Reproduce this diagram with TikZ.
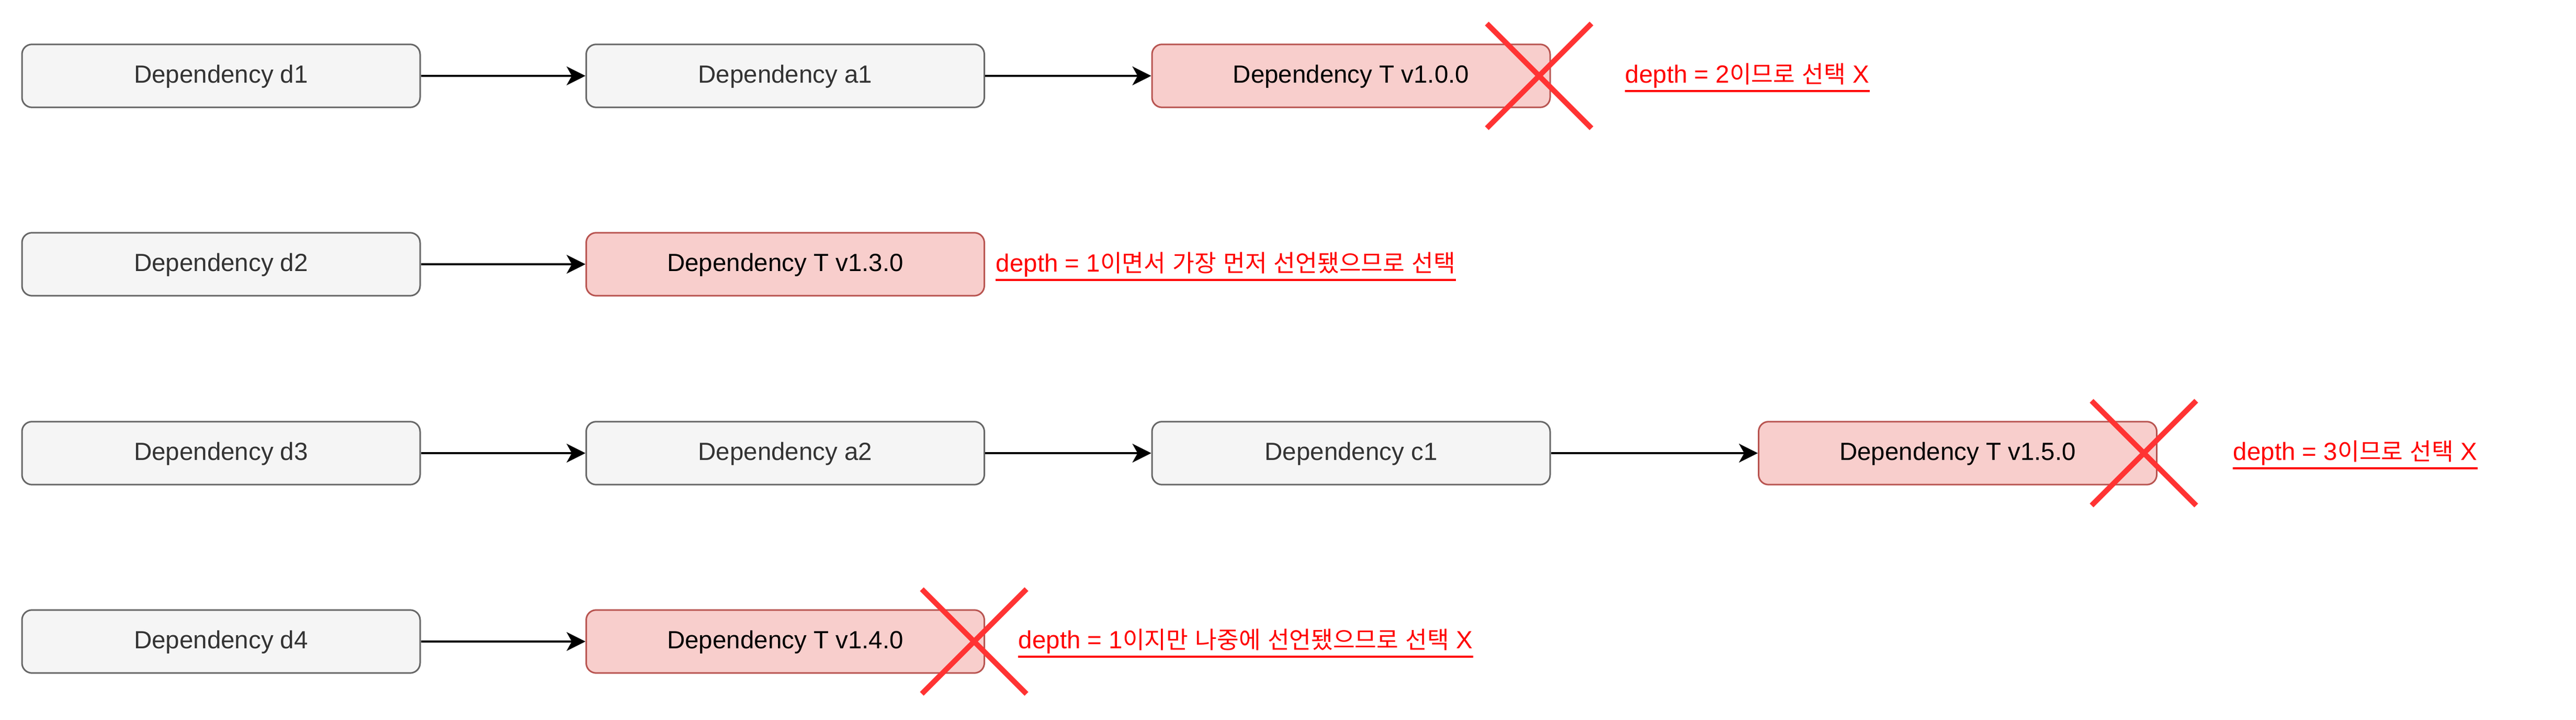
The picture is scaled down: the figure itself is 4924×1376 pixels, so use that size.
\documentclass[tikz,border=0pt]{standalone}
\usepackage{fontspec}
\setmainfont{Liberation Sans}
\newfontfamily\kr{Noto Sans CJK KR}[Scale=0.955]
\usetikzlibrary{arrows.meta}
\definecolor{gfill}{HTML}{F5F5F5}
\definecolor{gstroke}{HTML}{666666}
\definecolor{gtext}{HTML}{333333}
\definecolor{rfill}{HTML}{F8CECC}
\definecolor{rstroke}{HTML}{B85450}
\definecolor{xred}{HTML}{FF3333}
\definecolor{lred}{HTML}{FF0000}
\begin{document}
\begin{tikzpicture}[x=0.25pt,y=-0.25pt,
  box/.style={rectangle, rounded corners=4.75pt, minimum width=190.25pt, minimum height=30.1pt,
    inner sep=0pt, line width=0.75pt, font=\fontsize{11.875pt}{14pt}\selectfont,
    text height=8.55pt, text depth=1.8pt},
  gbox/.style={box, draw=gstroke, fill=gfill, text=gtext},
  rbox/.style={box, draw=rstroke, fill=rfill, text=black},
  arr/.style={line width=0.85pt, -{Stealth[length=9pt,width=9pt,inset=2.5pt]}},
  xline/.style={draw=xred, line width=2.5pt, line cap=butt},
  lbl/.style={inner sep=0pt, anchor=base west, text=lred, font=\fontsize{11.875pt}{14pt}\selectfont},
  uline/.style={draw=lred, line width=1pt}
]
\fill[white] (0,0) rectangle (4924,1376);
\useasboundingbox (0,0) rectangle (4924,1376);

% Row 1
\node[gbox] (d1) at (422.5,145) {Dependency d1};
\node[gbox] (a1) at (1501,145) {Dependency a1};
\node[rbox] (t1) at (2582.5,145) {Dependency T v1.0.0};
\draw[arr] (d1) -- (a1);
\draw[arr] (a1) -- (t1);
\coordinate (x1) at (2942,145);
\draw[xline] ([shift={(-25pt,25pt)}]x1) -- ([shift={(25pt,-25pt)}]x1);
\draw[xline] ([shift={(-25pt,-25pt)}]x1) -- ([shift={(25pt,25pt)}]x1);
\node[lbl] (l1) at (3106,159) {depth = 2{\kr 이므로} {\kr 선택} X};
\draw[uline] ([yshift=-3.75pt]l1.base west) -- ([yshift=-3.75pt]l1.base east);

% Row 2
\node[gbox] (d2) at (422.5,505) {Dependency d2};
\node[rbox] (t2) at (1501,505) {Dependency T v1.3.0};
\draw[arr] (d2) -- (t2);
\node[lbl] (l2) at (1903,520) {depth = 1{\kr 이면서} {\kr 가장} {\kr 먼저} {\kr 선언됐으므로} {\kr 선택}};
\draw[uline] ([yshift=-3.75pt]l2.base west) -- ([yshift=-3.75pt]l2.base east);

% Row 3
\node[gbox] (d3) at (422.5,866) {Dependency d3};
\node[gbox] (a2) at (1501,866) {Dependency a2};
\node[gbox] (c1) at (2582.5,866) {Dependency c1};
\node[rbox] (t3) at (3742,866) {Dependency T v1.5.0};
\draw[arr] (d3) -- (a2);
\draw[arr] (a2) -- (c1);
\draw[arr] (c1) -- (t3);
\coordinate (x3) at (4098,866);
\draw[xline] ([shift={(-25pt,25pt)}]x3) -- ([shift={(25pt,-25pt)}]x3);
\draw[xline] ([shift={(-25pt,-25pt)}]x3) -- ([shift={(25pt,25pt)}]x3);
\node[lbl] (l3) at (4268,880) {depth = 3{\kr 이므로} {\kr 선택} X};
\draw[uline] ([yshift=-3.75pt]l3.base west) -- ([yshift=-3.75pt]l3.base east);

% Row 4
\node[gbox] (d4) at (422.5,1226) {Dependency d4};
\node[rbox] (t4) at (1501,1226) {Dependency T v1.4.0};
\draw[arr] (d4) -- (t4);
\coordinate (x4) at (1862,1226);
\draw[xline] ([shift={(-25pt,25pt)}]x4) -- ([shift={(25pt,-25pt)}]x4);
\draw[xline] ([shift={(-25pt,-25pt)}]x4) -- ([shift={(25pt,25pt)}]x4);
\node[lbl] (l4) at (1946,1240) {depth = 1{\kr 이지만} {\kr 나중에} {\kr 선언됐으므로} {\kr 선택} X};
\draw[uline] ([yshift=-3.75pt]l4.base west) -- ([yshift=-3.75pt]l4.base east);
\end{tikzpicture}
\end{document}
